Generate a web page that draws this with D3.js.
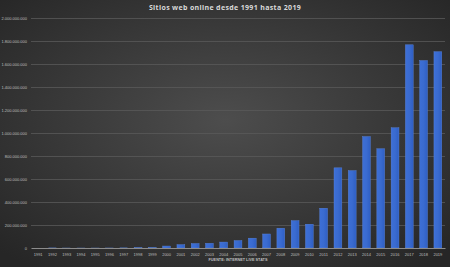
<!DOCTYPE html>
<html>
<head>
<meta charset="utf-8">
<script src="https://cdn.jsdelivr.net/npm/d3@7"></script>
<style>
  html, body { margin: 0; padding: 0; background: #2b2b2b; }
  svg { display: block; }
</style>
</head>
<body>
<div id="chart"></div>
<script>
const years = d3.range(1991, 2020).map(String);
const websites = [
    1, 10, 130, 2738, 23500, 257601, 1117255, 2410067, 3177453,
    17087182, 29254370, 38760373, 40912332, 51611646, 64780617, 85507314,
    121892559, 172338726, 238027855, 206956723, 346004403, 697089489,
    672985183, 968882453, 863105652, 1045534808, 1766926408, 1630322579,
    1707000000
];
const yTicks = d3.range(0, 2000000001, 200000000);
const title = 'Sitios web online desde 1991 hasta 2019';
const source = 'FUENTE: INTERNET LIVE STATS';

const data = years.map((y, i) => ({ year: y, value: websites[i] }));

const svgWidth = 450;
const svgHeight = 267;
const margin = { top: 18, right: 5, bottom: 19, left: 31 };
const width = svgWidth - margin.left - margin.right;
const height = svgHeight - margin.top - margin.bottom;

const svg = d3.select('#chart')
    .append('svg')
    .attr('width', svgWidth)
    .attr('height', svgHeight);

// background: dark radial gradient like the Excel theme
const defs = svg.append('defs');
const bg = defs.append('radialGradient')
    .attr('id', 'bg')
    .attr('cx', '50%').attr('cy', '45%').attr('r', '70%');
bg.append('stop').attr('offset', '0%').attr('stop-color', '#4d4d4d');
bg.append('stop').attr('offset', '100%').attr('stop-color', '#262626');

const barGrad = defs.append('linearGradient')
    .attr('id', 'bar')
    .attr('x1', '0%').attr('x2', '100%');
barGrad.append('stop').attr('offset', '0%').attr('stop-color', '#3d6fd6');
barGrad.append('stop').attr('offset', '50%').attr('stop-color', '#3a6bd0');
barGrad.append('stop').attr('offset', '100%').attr('stop-color', '#2f5fc4');

svg.append('rect')
    .attr('width', svgWidth)
    .attr('height', svgHeight)
    .attr('fill', 'url(#bg)');

const bounds = svg.append('g')
    .attr('transform', `translate(${margin.left}, ${margin.top})`);

const xScale = d3.scaleBand()
    .domain(years)
    .range([0, width])
    .paddingInner(0.45)
    .paddingOuter(0.225);

const yScale = d3.scaleLinear()
    .domain([0, 2000000000])
    .range([height, 0]);

const fmt = d3.formatLocale({ decimal: ',', thousands: '.', grouping: [3], currency: ['', ''] }).format(',d');

// gridlines + y labels
const yAxisGroup = bounds.append('g')
    .call(d3.axisLeft(yScale)
        .tickValues(yTicks)
        .tickSize(-width)
        .tickPadding(4)
        .tickFormat(fmt));
yAxisGroup.select('.domain').remove();
yAxisGroup.selectAll('.tick line')
    .attr('stroke', '#595959')
    .attr('stroke-width', 0.8)
    .filter(d => d === 0).remove();
yAxisGroup.selectAll('.tick text')
    .attr('fill', '#bfbfbf')
    .style('font-family', 'Liberation Sans, Arial, sans-serif')
    .style('font-size', '4px');

bounds.selectAll('rect.bar')
    .data(data)
    .join('rect')
    .attr('class', 'bar')
    .attr('x', d => xScale(d.year))
    .attr('y', d => yScale(d.value))
    .attr('width', xScale.bandwidth())
    .attr('height', d => height - yScale(d.value))
    .attr('fill', 'url(#bar)')
    .attr('stroke', '#5b86de')
    .attr('stroke-width', 0.4);

const xAxisGroup = bounds.append('g')
    .attr('transform', `translate(0, ${height})`)
    .call(d3.axisBottom(xScale).tickSize(0).tickPadding(5));
xAxisGroup.select('.domain')
    .attr('stroke', '#8c8c8c')
    .attr('stroke-width', 1);
xAxisGroup.selectAll('.tick text')
    .attr('fill', '#bfbfbf')
    .style('font-family', 'Liberation Sans, Arial, sans-serif')
    .style('font-size', '4px');

svg.append('text')
    .attr('x', svgWidth / 2)
    .attr('y', 10)
    .attr('text-anchor', 'middle')
    .attr('fill', '#d9d9d9')
    .style('font-family', 'Open Sans, sans-serif')
    .style('font-weight', 'bold')
    .style('font-size', '7px')
    .style('letter-spacing', '0.35px')
    .text(title);

svg.append('text')
    .attr('x', 238)
    .attr('y', 261)
    .attr('text-anchor', 'middle')
    .attr('fill', '#bfbfbf')
    .style('font-family', 'Liberation Sans, Arial, sans-serif')
    .style('font-weight', 'bold')
    .style('font-size', '3.8px')
    .text(source);
</script>
</body>
</html>
